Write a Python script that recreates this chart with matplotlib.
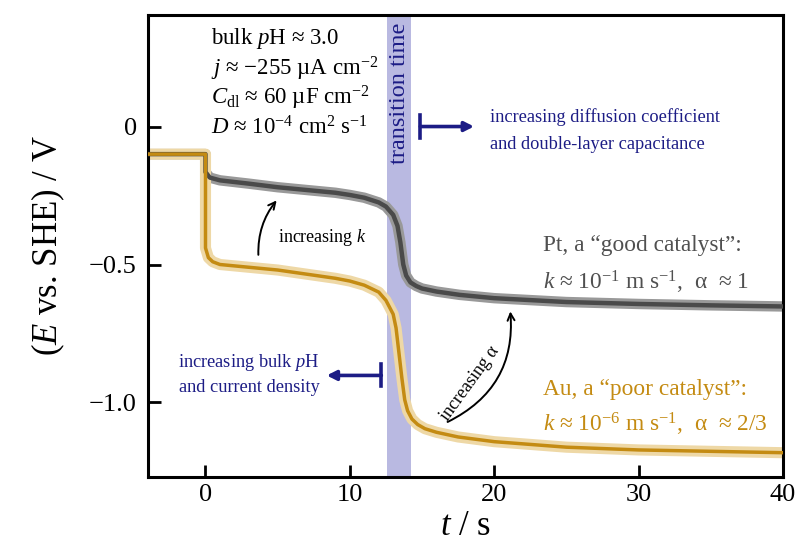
import matplotlib
matplotlib.use("Agg")
import matplotlib.pyplot as plt

plt.rcParams['font.family'] = ['Liberation Serif', 'DejaVu Serif']
plt.rcParams['mathtext.fontset'] = 'custom'
plt.rcParams['mathtext.rm'] = 'Liberation Serif'
plt.rcParams['mathtext.it'] = 'Liberation Serif:italic'

# Pt ("good catalyst") potential transient
pt_t = [-4, 0, 0, 0.3, 1, 3, 5, 7, 9, 10, 11, 12, 12.5, 13, 13.3, 13.5, 13.7,
        13.9, 14.2, 14.6, 15, 16, 17.6, 20, 25, 30, 35, 40]
pt_E = [-0.1, -0.1, -0.165, -0.185, -0.195, -0.207, -0.22, -0.23, -0.24, -0.248,
        -0.258, -0.275, -0.29, -0.32, -0.36, -0.42, -0.50, -0.54, -0.565,
        -0.578, -0.587, -0.598, -0.61, -0.622, -0.636, -0.643, -0.648, -0.652]

# Au ("poor catalyst") potential transient
au_t = [-4, 0, 0, 0.2, 0.5, 1, 3, 5, 7, 9, 10, 11, 12, 12.5, 13, 13.2, 13.4,
        13.6, 13.8, 14.0, 14.3, 14.7, 15.2, 16, 17.5, 20, 25, 30, 35, 40]
au_E = [-0.1, -0.1, -0.44, -0.475, -0.49, -0.50, -0.51, -0.52, -0.535, -0.55,
        -0.56, -0.575, -0.60, -0.63, -0.68, -0.73, -0.82, -0.91, -0.99, -1.03,
        -1.06, -1.08, -1.095, -1.108, -1.125, -1.142, -1.162, -1.172, -1.177,
        -1.182]

# transition time window
band_t = [12.6, 14.25]

x_ticks = [0, 10, 20, 30, 40]
y_ticks = [0, -0.5, -1.0]
y_tick_labels = ["0", "\u22120.5", "\u22121.0"]

params_text = [r"bulk $p$H ≈ 3.0",
               r"$j$ ≈ −255 µA cm$^{-2}$",
               r"$C_{\rm dl}$ ≈ 60 µF cm$^{-2}$",
               r"$D$ ≈ 10$^{-4}$ cm$^{2}$ s$^{-1}$"]

navy = '#1c1c85'
gray_core = '#4a4a4a'
gray_halo = '#999999'
gold_core = '#c48b12'
gold_halo = '#eed8a6'

fig = plt.figure(figsize=(8.03, 5.47), dpi=100)
ax = fig.add_axes([0.184, 0.128, 0.791, 0.845])

ax.axvspan(band_t[0], band_t[1], color='#b9b9e1', lw=0, zorder=0)

ax.plot(pt_t, pt_E, color=gray_halo, lw=7.5, solid_capstyle='butt', zorder=2)
ax.plot(pt_t, pt_E, color=gray_core, lw=3.2, zorder=3)
ax.plot(au_t, au_E, color=gold_halo, lw=8, solid_capstyle='butt', zorder=2)
ax.plot(au_t, au_E, color=gold_core, lw=2.5, zorder=3)

ax.set_xlim(-4, 40)
ax.set_ylim(-1.27, 0.405)
ax.set_xticks(x_ticks)
ax.set_yticks(y_ticks)
ax.set_yticklabels(y_tick_labels)
ax.tick_params(direction='in', length=9, width=2, labelsize=19, pad=5)
ax.tick_params(axis='y', pad=8)
for s in ax.spines.values():
    s.set_linewidth(2.2)

ax.set_xlabel(r"$t$ / s", fontsize=25, labelpad=3)
ax.set_ylabel(r"($E$ vs. SHE) / V", fontsize=25, labelpad=16)

# parameter block
for i, line in enumerate(params_text):
    ax.text(0.35, 0.318 - i * 0.108, line, fontsize=16.5, va='center', ha='left')

ax.text(13.43, 0.12, "transition time", rotation=90, fontsize=17.5,
        color=navy, ha='center', va='center')

# blue bar-arrows
arrow_kw = dict(arrowstyle="-|>,head_length=0.55,head_width=0.28", lw=2.6,
                color=navy, shrinkA=0, shrinkB=0)
ax.annotate("", xy=(18.6, 0.0), xytext=(14.88, 0.0), arrowprops=arrow_kw)
ax.plot([14.88, 14.88], [-0.04, 0.04], color=navy, lw=2.6)
ax.text(19.7, 0.036, "increasing diffusion coefficient", fontsize=13.2,
        color=navy, va='center', ha='left')
ax.text(19.7, -0.065, "and double-layer capacitance", fontsize=13.2,
        color=navy, va='center', ha='left')

ax.annotate("", xy=(8.4, -0.902), xytext=(12.18, -0.902), arrowprops=arrow_kw)
ax.plot([12.18, 12.18], [-0.942, -0.862], color=navy, lw=2.6)
ax.text(7.9, -0.855, r"increasing bulk $p$H", fontsize=13.2,
        color=navy, va='center', ha='right')
ax.text(7.9, -0.946, "and current density", fontsize=13.2,
        color=navy, va='center', ha='right')

# black curved arrows
ax.annotate("", xy=(5.05, -0.26), xytext=(3.67, -0.475),
            arrowprops=dict(arrowstyle="->,head_length=0.5,head_width=0.25", lw=1.4,
                            color='black', connectionstyle="arc3,rad=-0.2"))
ax.text(5.0, -0.402, r"increasing $k$", fontsize=13, ha='left', va='center')

ax.annotate("", xy=(21.1, -0.66), xytext=(16.6, -1.075),
            arrowprops=dict(arrowstyle="->,head_length=0.5,head_width=0.25", lw=1.4,
                            color='black', connectionstyle="arc3,rad=0.35"))
ax.text(18.3, -0.93, r"increasing α", fontsize=13, rotation=54,
        ha='center', va='center')

# catalyst labels
ax.text(23.4, -0.431, "Pt, a \u201cgood catalyst\u201d:", fontsize=16.8,
        color='#505050', va='center', ha='left')
ax.text(23.4, -0.565, r"$k$ ≈ 10$^{-1}$ m s$^{-1}$,  α  ≈ 1", fontsize=16.8,
        color='#505050', va='center', ha='left')
ax.text(23.4, -0.953, "Au, a \u201cpoor catalyst\u201d:", fontsize=16.8,
        color=gold_core, va='center', ha='left')
ax.text(23.4, -1.08, r"$k$ ≈ 10$^{-6}$ m s$^{-1}$,  α  ≈ 2/3", fontsize=16.8,
        color=gold_core, va='center', ha='left')

fig.savefig("out.png", dpi=100)
